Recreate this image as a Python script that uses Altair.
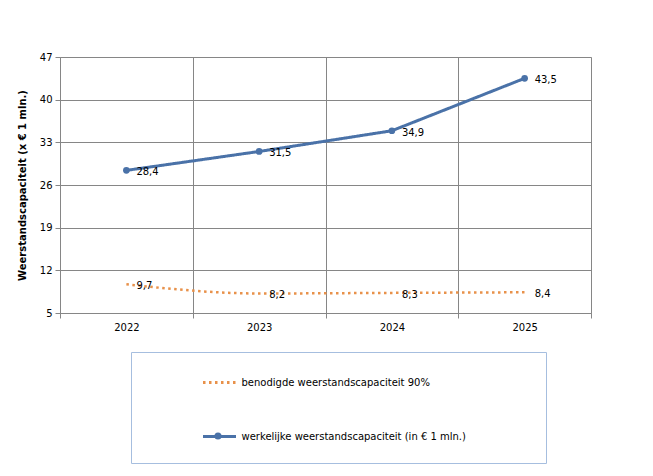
import altair as alt
import pandas as pd

years = ["2022", "2023", "2024", "2025"]
required = [9.7, 8.2, 8.3, 8.4]
actual = [28.4, 31.5, 34.9, 43.5]
s_req = "benodigde weerstandscapaciteit 90%"
s_act = "werkelijke weerstandscapaciteit (in € 1 mln.)"
y_ticks = [5, 12, 19, 26, 33, 40, 47]
y_title = "Weerstandscapaciteit  (x € 1 mln.)"

df = pd.DataFrame({
    "jaar": years * 2,
    "waarde": required + actual,
    "reeks": [s_req] * len(years) + [s_act] * len(years),
})

FONT = "DejaVu Sans"
GRID = "#868686"
ORANGE = "#E8914A"
BLUE = "#4A72A8"

x = alt.X("jaar:N",
          scale=alt.Scale(type="band", paddingInner=0, paddingOuter=0),
          axis=alt.Axis(title=None, labelAngle=0, tickBand="extent", grid=True,
                        gridColor=GRID, domainColor=GRID, tickColor=GRID,
                        tickSize=5, labelPadding=4, labelFontSize=10,
                        labelFont=FONT, labelColor="black"))
y = alt.Y("waarde:Q",
          scale=alt.Scale(domain=[5, 47], nice=False, zero=False),
          axis=alt.Axis(values=y_ticks, title=y_title, grid=True,
                        gridColor=GRID, domainColor=GRID, tickColor=GRID,
                        tickSize=5, labelPadding=3, labelFontSize=10,
                        labelFont=FONT, labelColor="black",
                        titleFont=FONT, titleFontSize=10, titleFontWeight="bold",
                        titleColor="black", titlePadding=12))

# invisible spacer title widens the legend box and adds room below the entries
spacer = "M" * 117
legend = alt.Legend(
    title=spacer, titleOrient="bottom", titleFontSize=4, titlePadding=4,
    titleOpacity=0, titleLimit=1000, titleAnchor="start",
    orient="none", legendX=71, legendY=295, direction="vertical",
    padding=12.5, rowPadding=30, symbolType="stroke", symbolSize=1089,
    symbolStrokeWidth=3, symbolOffset=58, labelFontSize=10, labelFont=FONT,
    labelColor="black", labelOffset=4, labelLimit=500,
    strokeColor="#A6BEDF", fillColor="white",
)
color = alt.Color("reeks:N", scale=alt.Scale(domain=[s_req, s_act], range=[ORANGE, BLUE]),
                  legend=legend)
dash = alt.StrokeDash("reeks:N", scale=alt.Scale(domain=[s_req, s_act], range=[[2.5, 3.5], [1, 0]]),
                      legend=legend)

dot_legend = alt.Legend(
    title=None, orient="none", legendX=154, legendY=375, padding=0,
    symbolType="circle", symbolSize=50, symbolStrokeWidth=0,
    labelExpr="''", labelFontSize=1, labelOffset=0,
)
fill = alt.Fill("reeks:N", scale=alt.Scale(domain=[s_act], range=[BLUE]), legend=dot_legend)

base = alt.Chart(df).encode(x=x, y=y)

line_req = base.transform_filter(alt.datum.reeks == s_req).mark_line(
    interpolate="monotone", strokeWidth=2.5).encode(color=color, strokeDash=dash)
line_act = base.transform_filter(alt.datum.reeks == s_act).mark_line(
    strokeWidth=3).encode(color=color, strokeDash=dash)
pts = base.transform_filter(alt.datum.reeks == s_act).mark_point(
    filled=True, size=45, opacity=1, strokeWidth=0).encode(fill=fill)
labels = base.transform_calculate(
    lab="replace(format(datum.waarde, '.1f'), '.', ',')"
).mark_text(align="left", baseline="middle", dx=10, dy=2, fontSize=10,
            font=FONT, color="black").encode(text="lab:N")

chart = alt.layer(line_req, line_act, pts, labels).properties(
    width=531, height=256,
    padding={"left": 52, "top": 49, "right": 54, "bottom": 155},
    autosize=alt.AutoSizeParams(type="none"),
).configure_view(stroke=GRID).configure(background="white")

chart.save("out.html", embed_options={"renderer": "svg", "actions": False})
